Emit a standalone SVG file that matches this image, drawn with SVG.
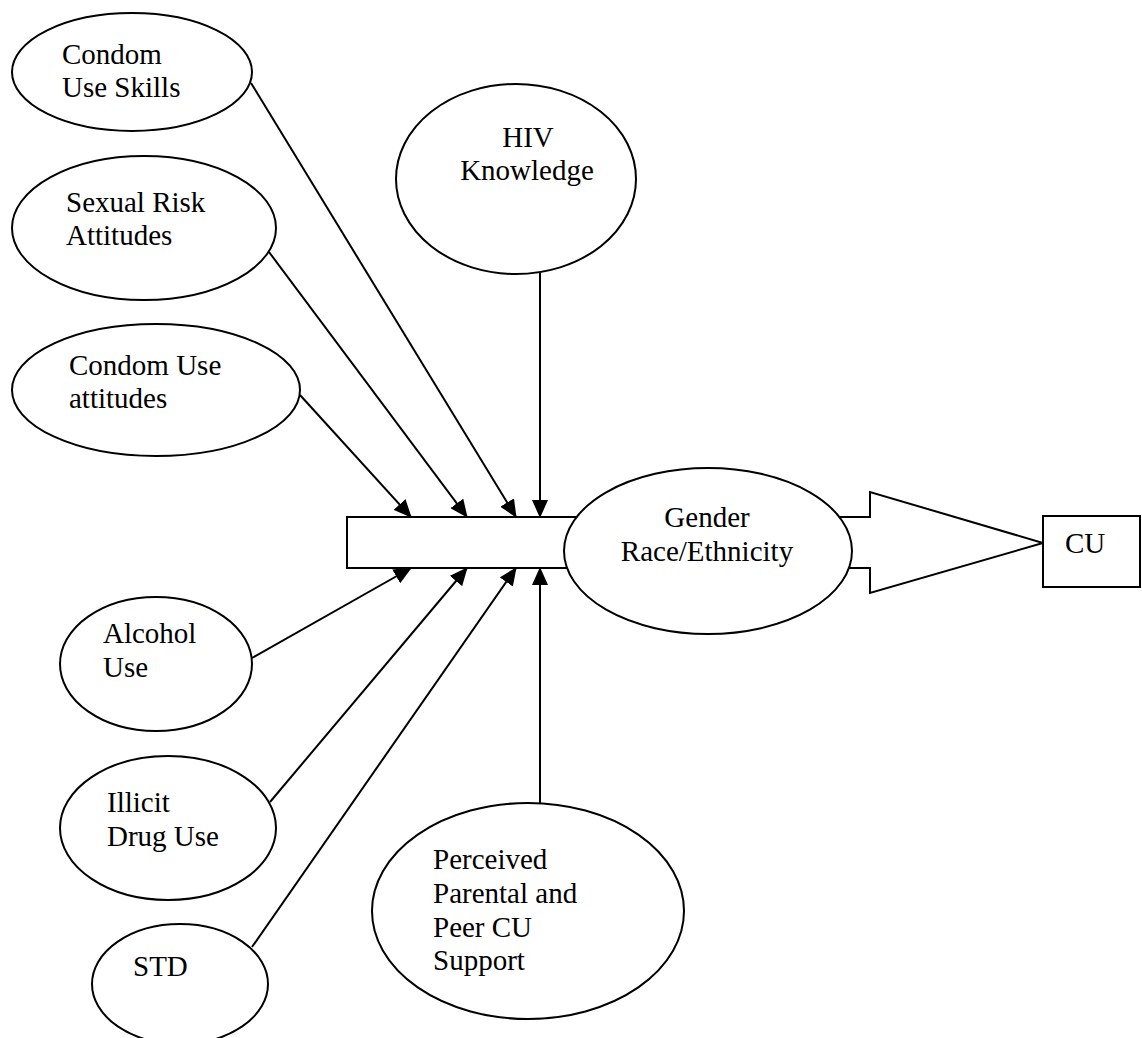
<svg xmlns="http://www.w3.org/2000/svg" width="1142" height="1038" viewBox="0 0 1142 1038">
<style>
.shape{fill:#fff;stroke:#000;stroke-width:2}
.lbl{font-family:'Liberation Serif','Tinos','Times New Roman','Noto Serif','DejaVu Serif',serif;font-size:29px;fill:#000}
.mid{text-anchor:middle}
.conn{stroke:#000;stroke-width:2;fill:none;marker-end:url(#ah)}
</style>
<defs>
<marker id="ah" markerUnits="userSpaceOnUse" markerWidth="18" markerHeight="16" viewBox="0 0 18 16" refX="17" refY="8" orient="auto">
<path d="M0,0 L18,8 L0,16 Z" fill="#000"/>
</marker>
</defs>
<rect width="1142" height="1038" fill="#fff"/>
<g id="block-arrow">
<polygon class="shape" points="347,517 870,517 870,492 1043,543 870,593 870,568 347,568"/>
</g>
<g id="connectors">
<line class="conn" x1="251" y1="83" x2="516" y2="517"/>
<line class="conn" x1="269" y1="252" x2="467" y2="517"/>
<line class="conn" x1="300" y1="395" x2="411" y2="517"/>
<line class="conn" x1="540" y1="273" x2="540" y2="517"/>
<line class="conn" x1="252" y1="658" x2="411" y2="568"/>
<line class="conn" x1="270" y1="802" x2="467" y2="568"/>
<line class="conn" x1="252" y1="947" x2="516" y2="568"/>
<line class="conn" x1="540" y1="803" x2="540" y2="568"/>
</g>
<g id="condom-use-skills">
<ellipse class="shape" cx="132" cy="72" rx="120" ry="59"/>
<text class="lbl" font-family="Liberation Serif, serif" x="62" y="64">Condom</text>
<text class="lbl" x="62" y="97">Use Skills</text>
</g>
<g id="sexual-risk-attitudes">
<ellipse class="shape" cx="144" cy="228" rx="132" ry="72"/>
<text class="lbl" x="66" y="212">Sexual Risk</text>
<text class="lbl" x="66" y="245">Attitudes</text>
</g>
<g id="condom-use-attitudes">
<ellipse class="shape" cx="156" cy="390" rx="144" ry="66"/>
<text class="lbl" x="69" y="375">Condom Use</text>
<text class="lbl" x="69" y="408">attitudes</text>
</g>
<g id="hiv-knowledge">
<ellipse class="shape" cx="516" cy="179" rx="120" ry="95"/>
<text class="lbl mid" x="528" y="147">HIV</text>
<text class="lbl mid" x="527" y="180">Knowledge</text>
</g>
<g id="gender-race">
<ellipse class="shape" cx="708" cy="551" rx="144" ry="83"/>
<text class="lbl mid" x="707" y="527">Gender</text>
<text class="lbl mid" x="707" y="561">Race/Ethnicity</text>
</g>
<g id="cu">
<rect class="shape" x="1043" y="516" width="97" height="71"/>
<text class="lbl" x="1065" y="553">CU</text>
</g>
<g id="alcohol-use">
<ellipse class="shape" cx="156" cy="664" rx="96" ry="67"/>
<text class="lbl" x="103" y="643">Alcohol</text>
<text class="lbl" x="103" y="677">Use</text>
</g>
<g id="illicit-drug-use">
<ellipse class="shape" cx="168" cy="828" rx="108" ry="72"/>
<text class="lbl" x="107" y="812">Illicit</text>
<text class="lbl" x="107" y="846">Drug Use</text>
</g>
<g id="std">
<ellipse class="shape" cx="180" cy="984" rx="88" ry="60"/>
<text class="lbl" x="133" y="976">STD</text>
</g>
<g id="perceived-support">
<ellipse class="shape" cx="528" cy="911" rx="156" ry="108"/>
<text class="lbl" x="433" y="869">Perceived</text>
<text class="lbl" x="433" y="903">Parental and</text>
<text class="lbl" x="433" y="937">Peer CU</text>
<text class="lbl" x="433" y="970">Support</text>
</g>
</svg>
